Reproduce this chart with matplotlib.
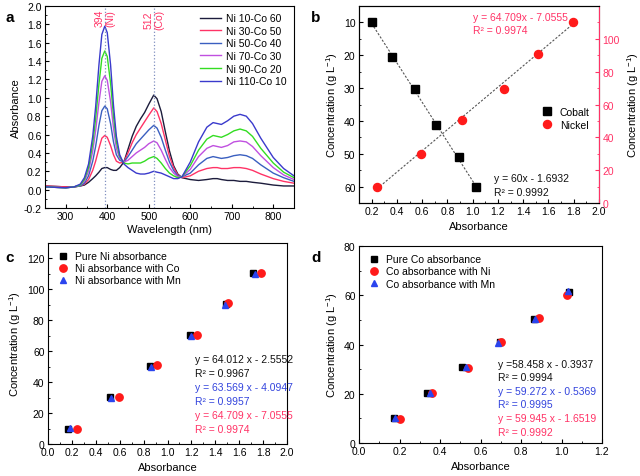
import numpy as np
import matplotlib
matplotlib.use('Agg')
import matplotlib.pyplot as plt
from matplotlib.ticker import MultipleLocator, FormatStrFormatter
from matplotlib.lines import Line2D

plt.rcParams['font.family'] = ['Liberation Sans', 'DejaVu Sans']
plt.rcParams['mathtext.fontset'] = 'custom'
plt.rcParams['mathtext.rm'] = 'Liberation Sans'
plt.rcParams['font.size'] = 7.5
plt.rcParams['xtick.direction'] = 'in'
plt.rcParams['ytick.direction'] = 'in'
plt.rcParams['xtick.major.size'] = 3
plt.rcParams['ytick.major.size'] = 3
plt.rcParams['xtick.minor.size'] = 1.6
plt.rcParams['ytick.minor.size'] = 1.6
plt.rcParams['xtick.major.pad'] = 2.5
plt.rcParams['ytick.major.pad'] = 2.5
plt.rcParams['axes.linewidth'] = 0.8

# ---- panel a: UV-vis spectra
wl = [250, 300, 320, 335, 345, 355, 365, 372, 380, 387, 394, 400, 408, 415, 422, 430, 440,
      450, 460, 470, 480, 490, 500, 512, 520, 530, 540, 550, 560, 570, 580, 600, 620, 640,
      655, 665, 675, 690, 705, 720, 735, 750, 770, 800, 825, 850]
ni10_co60 = [0.04, 0.03, 0.03, 0.04, 0.05, 0.08, 0.12, 0.15, 0.19, 0.23, 0.24, 0.24, 0.22, 0.21, 0.21, 0.24, 0.30,
             0.44, 0.58, 0.69, 0.77, 0.84, 0.93, 1.03, 0.99, 0.85, 0.63, 0.42, 0.26, 0.17, 0.13, 0.11, 0.10, 0.11,
             0.12, 0.12, 0.11, 0.10, 0.10, 0.09, 0.09, 0.08, 0.07, 0.05, 0.04, 0.04]
ni30_co50 = [0.04, 0.03, 0.03, 0.04, 0.06, 0.11, 0.21, 0.31, 0.45, 0.56, 0.59, 0.57, 0.48, 0.38, 0.31, 0.29, 0.30,
             0.40, 0.51, 0.60, 0.67, 0.74, 0.81, 0.89, 0.85, 0.72, 0.54, 0.36, 0.24, 0.16, 0.13, 0.15, 0.20, 0.23,
             0.24, 0.24, 0.23, 0.23, 0.24, 0.24, 0.23, 0.21, 0.17, 0.12, 0.09, 0.07]
ni50_co40 = [0.03, 0.02, 0.03, 0.04, 0.07, 0.15, 0.31, 0.47, 0.70, 0.86, 0.91, 0.88, 0.72, 0.52, 0.38, 0.32, 0.30,
             0.36, 0.43, 0.50, 0.55, 0.60, 0.65, 0.70, 0.67, 0.57, 0.43, 0.30, 0.21, 0.15, 0.14, 0.18, 0.27, 0.34,
             0.36, 0.35, 0.34, 0.35, 0.37, 0.38, 0.37, 0.34, 0.27, 0.18, 0.13, 0.09]
ni70_co30 = [0.03, 0.02, 0.03, 0.05, 0.09, 0.20, 0.42, 0.64, 0.95, 1.18, 1.24, 1.19, 0.96, 0.67, 0.45, 0.34, 0.30,
             0.32, 0.36, 0.40, 0.43, 0.46, 0.50, 0.53, 0.51, 0.43, 0.33, 0.24, 0.18, 0.14, 0.14, 0.22, 0.36, 0.45,
             0.48, 0.47, 0.46, 0.48, 0.52, 0.53, 0.52, 0.47, 0.37, 0.24, 0.16, 0.11]
ni90_co20 = [0.03, 0.02, 0.03, 0.05, 0.11, 0.24, 0.50, 0.77, 1.15, 1.43, 1.51, 1.45, 1.16, 0.80, 0.52, 0.36, 0.29,
             0.28, 0.29, 0.29, 0.29, 0.31, 0.34, 0.36, 0.34, 0.29, 0.23, 0.18, 0.15, 0.13, 0.14, 0.26, 0.43, 0.55,
             0.59, 0.58, 0.57, 0.60, 0.64, 0.66, 0.64, 0.58, 0.45, 0.29, 0.19, 0.13]
ni110_co10 = [0.03, 0.02, 0.03, 0.06, 0.13, 0.28, 0.58, 0.90, 1.36, 1.69, 1.78, 1.71, 1.36, 0.92, 0.58, 0.38, 0.28,
              0.24, 0.21, 0.18, 0.17, 0.17, 0.18, 0.20, 0.19, 0.18, 0.16, 0.14, 0.12, 0.12, 0.14, 0.30, 0.52, 0.68,
              0.73, 0.72, 0.71, 0.75, 0.80, 0.82, 0.80, 0.72, 0.56, 0.35, 0.23, 0.15]
spectra = [ni10_co60, ni30_co50, ni50_co40, ni70_co30, ni90_co20, ni110_co10]
spec_labels = ['Ni 10-Co 60', 'Ni 30-Co 50', 'Ni 50-Co 40', 'Ni 70-Co 30', 'Ni 90-Co 20', 'Ni 110-Co 10']
spec_colors = ['#1c1c3c', '#ff3366', '#3a5fc0', '#c050e0', '#33dd22', '#3a3acc']
peak_pos = [394, 512]
peak_labels = ['394\n(Ni)', '512\n(Co)']

# ---- panel b: calibration
co_abs = [0.20, 0.363, 0.54, 0.708, 0.892, 1.03]
co_conc = [10, 20.4, 30.4, 41.2, 51, 60.2]
ni_abs = [0.242, 0.592, 0.916, 1.25, 1.52, 1.797]
ni_conc = [9.5, 29.8, 50.6, 69.6, 90.5, 110]
co_fit = (60.0, -1.6932)
ni_fit = (64.709, -7.0555)

# ---- panel c: Ni with interference
c_labels = ['Pure Ni absorbance', 'Ni absorbance with Co', 'Ni absorbance with Mn']
c_abs = [[0.17, 0.515, 0.855, 1.185, 1.49, 1.715],
         [0.24, 0.59, 0.91, 1.245, 1.51, 1.785],
         [0.185, 0.53, 0.865, 1.195, 1.48, 1.735]]
c_conc = [[10, 30.5, 50.6, 70.5, 90.5, 110.5],
          [10, 30.3, 51.3, 70.3, 91.4, 110.7],
          [10.5, 29.5, 49.5, 69.6, 89.9, 110.2]]
c_eq = ['y = 64.012 x - 2.5552', 'R² = 0.9967', 'y = 63.569 x - 4.0947', 'R² = 0.9957',
        'y = 64.709 x - 7.0555', 'R² = 0.9974']

# ---- panel d: Co with interference
d_labels = ['Pure Co absorbance', 'Co absorbance with Ni', 'Co absorbance with Mn']
d_abs = [[0.171, 0.337, 0.508, 0.694, 0.863, 1.036],
         [0.20, 0.36, 0.538, 0.702, 0.888, 1.026],
         [0.179, 0.349, 0.528, 0.686, 0.871, 1.031]]
d_conc = [[10.3, 20.3, 30.8, 41.2, 50.3, 61.2],
          [9.8, 20.2, 30.3, 41.0, 50.9, 60.0],
          [10.3, 20.3, 31.0, 40.5, 50.5, 61.6]]
d_eq = ['y =58.458 x - 0.3937', 'R² = 0.9994', 'y = 59.272 x - 0.5369', 'R² = 0.9995',
        'y = 59.945 x - 1.6519', 'R² = 0.9992']

pink = '#ff3366'
red = '#ff1a1a'
blue = '#2a44ee'
eq_colors = ['#111111', '#111111', '#3344dd', '#3344dd', pink, pink]
mk_colors = ['black', red, blue]
mk_shapes = ['s', 'o', '^']
conc_label = r'Concentration (g L$^{\mathregular{-1}}$)'

W, H = 640, 477
fig = plt.figure(figsize=(6.4, 4.77), dpi=100)

def box(l, t, r, b):
    return [l / W, 1 - b / H, (r - l) / W, (b - t) / H]

# panel a
ax_a = fig.add_axes(box(45, 7, 294, 209))
for vals, lab, col in zip(spectra, spec_labels, spec_colors):
    ax_a.plot(wl, vals, color=col, lw=1.0, label=lab)
for pos, lab in zip(peak_pos, peak_labels):
    ax_a.axvline(pos, color='#8090c0', ls=':', lw=0.9)
    ax_a.text(pos, 1.97, lab, rotation=90, ha='center', va='top', color=pink,
              fontsize=7.5, linespacing=1.05)
ax_a.set_xlim(250, 850)
ax_a.set_ylim(-0.2, 2.0)
ax_a.xaxis.set_major_locator(MultipleLocator(100))
ax_a.xaxis.set_minor_locator(MultipleLocator(50))
ax_a.yaxis.set_major_locator(MultipleLocator(0.2))
ax_a.yaxis.set_minor_locator(MultipleLocator(0.1))
ax_a.yaxis.set_major_formatter(FormatStrFormatter('%.1f'))
ax_a.set_xticks([300, 400, 500, 600, 700, 800])
ax_a.set_xlabel('Wavelength (nm)', fontsize=8, labelpad=2)
ax_a.set_ylabel('Absorbance', fontsize=8, labelpad=2)
ax_a.legend(loc='upper right', frameon=False, fontsize=7.5, handlelength=2.0,
            handletextpad=0.5, labelspacing=0.25, borderaxespad=0.3)

# panel b
ax_b = fig.add_axes(box(359, 7, 599, 204))
ax_b2 = ax_b.twinx()
fx = np.array([min(co_abs), max(co_abs)])
ax_b.plot(fx, co_fit[0] * fx + co_fit[1], color='#555555', ls=(0, (2, 1.5)), lw=0.8)
ax_b.plot(co_abs, co_conc, 's', color='black', ms=5.2, ls='none')
fx = np.array([min(ni_abs), max(ni_abs)])
ax_b2.plot(fx, ni_fit[0] * fx + ni_fit[1], color='#555555', ls=(0, (2, 1.5)), lw=0.8)
ax_b2.plot(ni_abs, ni_conc, 'o', color=red, ms=5.8, ls='none')
ax_b.set_xlim(0.1, 2.0)
ax_b.set_ylim(65, 5)
ax_b2.set_ylim(0, 120)
ax_b.set_xticks(np.arange(0.2, 2.01, 0.2))
ax_b.xaxis.set_minor_locator(MultipleLocator(0.1))
ax_b.xaxis.set_major_formatter(FormatStrFormatter('%.1f'))
ax_b.set_yticks([10, 20, 30, 40, 50, 60])
ax_b.yaxis.set_minor_locator(MultipleLocator(5))
ax_b2.set_yticks([0, 20, 40, 60, 80, 100])
ax_b2.yaxis.set_minor_locator(MultipleLocator(10))
ax_b2.spines['right'].set_color(pink)
ax_b2.tick_params(axis='y', which='both', colors=pink, labelcolor=pink, direction='in')
ax_b.set_xlabel('Absorbance', fontsize=8, labelpad=3)
ax_b.set_ylabel(conc_label, fontsize=8, labelpad=3)
ax_b2.set_ylabel(conc_label, fontsize=8, labelpad=4, color='black')
ax_b.text(0.475, 0.97, 'y = 64.709x - 7.0555\nR² = 0.9974', transform=ax_b.transAxes,
          color=pink, ha='left', va='top', fontsize=7.5, linespacing=1.4)
ax_b.text(0.5625, 0.15, 'y = 60x - 1.6932\nR² = 0.9992', transform=ax_b.transAxes,
          color='#111111', ha='left', va='top', fontsize=7.5, linespacing=1.4)
hb = [Line2D([], [], marker='s', color='black', ls='none', ms=5.2),
      Line2D([], [], marker='o', color=red, ls='none', ms=5.8)]
ax_b2.legend(hb, ['Cobalt', 'Nickel'], loc='center right', bbox_to_anchor=(1.0, 0.43),
             frameon=False, fontsize=7.5, handletextpad=0.6, labelspacing=0.3,
             handlelength=1.2)


def scatter_panel(ax, xs, ys, labels, eqs, eq_x, eq_y):
    for x, y, lab, col, mk in zip(xs, ys, labels, mk_colors, mk_shapes):
        ms = 5.3 if mk == 'o' else 5.0
        ax.plot(x, y, mk, color=col, ms=ms, ls='none', label=lab)
    for txt, col, yy in zip(eqs, eq_colors, eq_y):
        ax.text(eq_x, yy, txt, transform=ax.transAxes, color=col, ha='left',
                va='center', fontsize=7.5)
    ax.xaxis.set_major_formatter(FormatStrFormatter('%.1f'))
    ax.xaxis.set_minor_locator(MultipleLocator(0.1))
    ax.yaxis.set_minor_locator(MultipleLocator(10))
    ax.set_xlabel('Absorbance', fontsize=8, labelpad=3)
    ax.set_ylabel(conc_label, fontsize=8, labelpad=3)
    ax.legend(loc='upper left', frameon=False, fontsize=7.5, handletextpad=0.6,
              labelspacing=0.2, handlelength=1.2, borderaxespad=0.4)


# panel c
ax_c = fig.add_axes(box(48, 244, 287, 445))
scatter_panel(ax_c, c_abs, c_conc, c_labels, c_eq, 0.615,
              [0.423, 0.353, 0.284, 0.214, 0.144, 0.075])
ax_c.set_xlim(0, 2.0)
ax_c.set_ylim(0, 130)
ax_c.set_xticks(np.arange(0, 2.01, 0.2))
ax_c.set_yticks(np.arange(0, 121, 20))

# panel d
ax_d = fig.add_axes(box(359, 247, 602, 444))
scatter_panel(ax_d, d_abs, d_conc, d_labels, d_eq, 0.57,
              [0.40, 0.335, 0.265, 0.197, 0.125, 0.058])
ax_d.set_xlim(0, 1.2)
ax_d.set_ylim(0, 80)
ax_d.set_xticks(np.arange(0, 1.21, 0.2))
ax_d.set_yticks(np.arange(0, 81, 20))

for lab, px, py in zip(['a', 'b', 'c', 'd'], [5, 311, 5, 311], [18, 18, 258, 258]):
    fig.text(px / W, 1 - py / H, lab, fontsize=11, fontweight='bold', va='center', ha='left')

fig.savefig('out.png', dpi=100)
